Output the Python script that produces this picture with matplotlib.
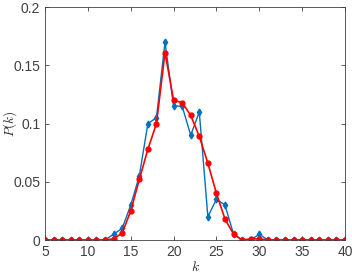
import numpy as np
import matplotlib.pyplot as plt

k = np.arange(5, 41)
p_sim = [0, 0, 0, 0, 0, 0, 0, 0, 0.005, 0.01, 0.03, 0.055, 0.1, 0.105, 0.17,
         0.115, 0.115, 0.09, 0.11, 0.02, 0.035, 0.03, 0.005, 0, 0, 0.005,
         0, 0, 0, 0, 0, 0, 0, 0, 0, 0]
p_theory = [0, 0, 0, 0, 0, 0, 0, 0, 0.001, 0.006, 0.025, 0.052, 0.078, 0.1,
            0.161, 0.12, 0.118, 0.107, 0.089, 0.066, 0.04, 0.018, 0.005, 0,
            0.001, 0.001, 0, 0, 0, 0, 0, 0, 0, 0, 0, 0]

plt.rcParams['font.family'] = ['Liberation Sans', 'DejaVu Sans']
plt.rcParams['mathtext.fontset'] = 'cm'

fig = plt.figure(figsize=(3.52, 2.74), dpi=100)
ax = fig.add_axes([0.128, 0.124, 0.852, 0.850])

ax.plot(k, p_sim, color='#0072BD', marker='d', markersize=3.5, linewidth=1.0)
ax.plot(k, p_theory, color='red', marker='o', markersize=3.5, linewidth=1.2)

ax.set_xlim(5, 40)
ax.set_ylim(0, 0.2)
ax.set_xticks([5, 10, 15, 20, 25, 30, 35, 40])
ax.set_yticks([0, 0.05, 0.1, 0.15, 0.2])
ax.set_yticklabels(['0', '0.05', '0.1', '0.15', '0.2'])
ax.tick_params(direction='in', top=True, right=True, labelsize=10,
               colors='#404040', length=3, width=0.6)
for s in ax.spines.values():
    s.set_color('#404040')
    s.set_linewidth(0.6)

ax.set_xlabel('$k$', fontsize=10, labelpad=1, color='#262626')
ax.set_ylabel('$P(k)$', fontsize=9.5, color='#262626')
ax.yaxis.set_label_coords(-0.088, 0.5)

fig.savefig('out.png', dpi=100)
